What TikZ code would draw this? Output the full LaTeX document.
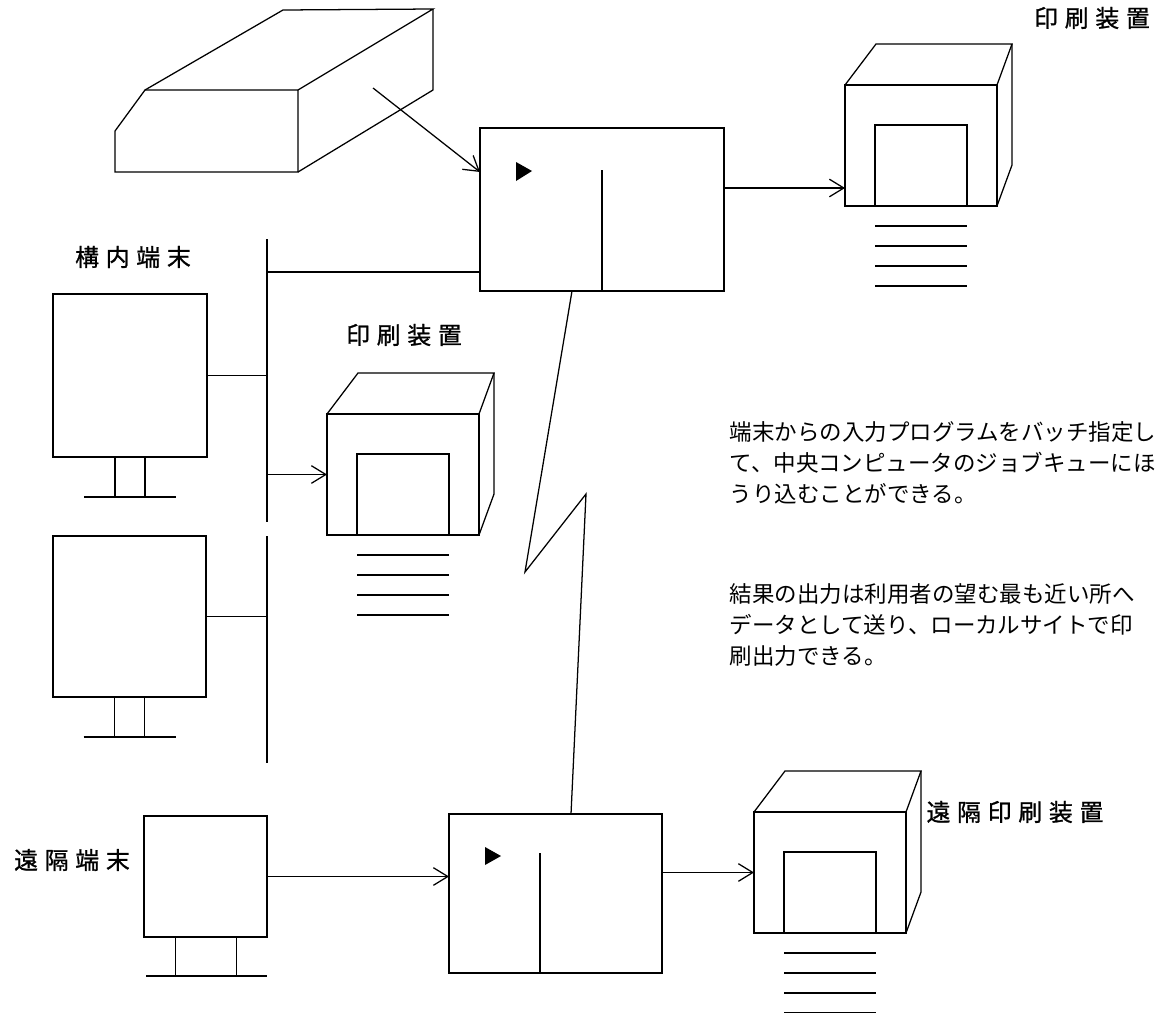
\documentclass[tikz,border=0pt]{standalone}
\usepackage{fontspec}
\newfontfamily\jpfont{Noto Sans CJK JP}
\newfontfamily\jptitlefont[LetterSpace=28,FakeBold=1]{Noto Sans CJK JP}
\usetikzlibrary{arrows.meta,calc,positioning}
\def\figunit{0.25mm}
\def\figlinewidth{0.9pt}

\begin{document}
\begin{tikzpicture}[
  x=\figunit,y=-\figunit,
  line width=\figlinewidth,
  box/.style={draw,inner sep=0pt,outer sep=0pt,anchor=north west},
  printer/.style={box,minimum width=152*\figunit,minimum height=121*\figunit},
  title/.style={font=\jptitlefont\fontsize{17pt}{20pt}\selectfont,inner sep=0pt},
  notetext/.style={font=\jpfont\fontsize{16pt}{22pt}\selectfont,inner sep=0pt,anchor=north west,align=left},
  link/.style={-{Straight Barb[length=3.6mm,width=4.4mm]}},
]
\useasboundingbox (0,0) rectangle (1172,1012);

%%%%%%%%%%%%%%%
% Card Reader
%%%%%%%%%%%%%%%
\draw (115,172) -- (115,131) -- (145,90) -- (298,90) -- (298,172) -- cycle;
\draw (145,90) -- (283,10) -- (433,9) -- (298,90);
\draw (433,9) -- (433,90) -- (298,172);
\coordinate (rdr) at (373,88);

%%%%%%%%%%%%%%%
% Central Computer
%%%%%%%%%%%%%%%
\node (htop) [box,minimum width=244*\figunit,minimum height=163*\figunit] at (480,128) {};
\draw ($(htop.south west)+(122,0)$) -- ++(0,-121);
\fill ($(htop.north west)+(36,34)$) -- ++(0,19) -- ++(16,-10) -- cycle;
\draw [link] (rdr) -- ($(htop.north west)+(0,44)$);

\node (ptop) [printer] at (845,85) {};
\node (lbl5) [title] at (1092,18) {印刷装置};
\coordinate (outtop) at ($(htop.north east)+(0,60)$);
\draw [link] (outtop) -- (outtop -| ptop.west);

%%%%%%%%%%%%%%%
% Local Terminals
%%%%%%%%%%%%%%%
\node (lbl1) [title] at (133,257) {構内端末};
\coordinate (bustop) at (267,239);
\coordinate (bustap) at (267,272);
\coordinate (busgap1) at (267,522);
\coordinate (busgap2) at (267,536);
\coordinate (busend) at (267,763);
\draw (bustop) -- (busgap1);
\draw (busgap2) -- (busend);
\draw (bustap) -- (bustap -| htop.west);

\node (term1) [box,minimum width=154*\figunit,minimum height=163*\figunit] at (53,294) {};
\node (term2) [box,minimum width=153*\figunit,minimum height=161*\figunit] at (53,536) {};
\draw (term1.east) -- (term1.east -| bustop);
\draw (term2.east) -- (term2.east -| bustop);
\foreach \t in {term1,term2}{
  \draw ([xshift=-15*\figunit]\t.south) -- ++(0,40);
  \draw ([xshift=15*\figunit]\t.south) -- ++(0,40);
  \draw ([xshift=-46*\figunit]\t.south) ++(0,40) -- ++(92,0);
}

\node (pmid) [printer] at (327,414) {};
\node (lbl2) [title] at (404,335) {印刷装置};
\draw [link] (pmid.west -| bustop) -- (pmid.west);

%%%%%%%%%%%%%%%
% Remote Site
%%%%%%%%%%%%%%%
\node (lbl3) [title] at (72,860) {遠隔端末};
\node (term3) [box,minimum width=123*\figunit,minimum height=121*\figunit] at (144,816) {};
\draw ([xshift=-30*\figunit]term3.south) -- ++(0,39);
\draw ([xshift=31*\figunit]term3.south) -- ++(0,39);
\draw ($(term3.south west)+(2,39)$) -- ($(term3.south east)+(0,39)$);

\node (hrem) [box,minimum width=213*\figunit,minimum height=159*\figunit] at (449,814) {};
\draw ($(hrem.south west)+(91,0)$) -- ++(0,-120);
\fill ($(hrem.north west)+(36,33)$) -- ++(0,18) -- ++(16,-9) -- cycle;
\draw [link] (term3.east) -- (term3.east -| hrem.west);

\node (prem) [printer] at (754,812) {};
\node (lbl4) [title] at (1015,812) {遠隔印刷装置};
\draw [link] (prem.west -| hrem.east) -- (prem.west);

% Telephone line
\coordinate (zl) at (525,572);
\coordinate (zr) at (586,494);
\draw ($(htop.south west)+(92,0)$) -- (zl) -- (zr) -- ($(hrem.north west)+(122,0)$);

%%%%%%%%%%%%%%%
% Printer Bodies and Paper
%%%%%%%%%%%%%%%
\foreach \p in {ptop,pmid,prem}{
  \draw (\p.north west) -- ++(31,-41) -- ($(\p.north east)+(15,-41)$) -- (\p.north east);
  \draw ($(\p.north east)+(15,-41)$) -- ($(\p.south east)+(15,-41)$) -- (\p.south east);
  \draw ($(\p.south west)+(30,0)$) |- ($(\p.north west)+(122,40)$) -- ($(\p.south west)+(122,0)$);
  \foreach \k in {1,...,4}
    \draw ($(\p.south west)+(30,20*\k)$) -- ++(92,0);
}

%%%%%%%%%%%%%%%
% Notes
%%%%%%%%%%%%%%%
\node (note1) [notetext] at (729,421) {端末からの入力プログラムをバッチ指定し\\て、中央コンピュータのジョブキューにほ\\うり込むことができる。};
\node (note2) [notetext] at (729,583) {結果の出力は利用者の望む最も近い所へ\\データとして送り、ローカルサイトで印\\刷出力できる。};

\end{tikzpicture}
\end{document}
